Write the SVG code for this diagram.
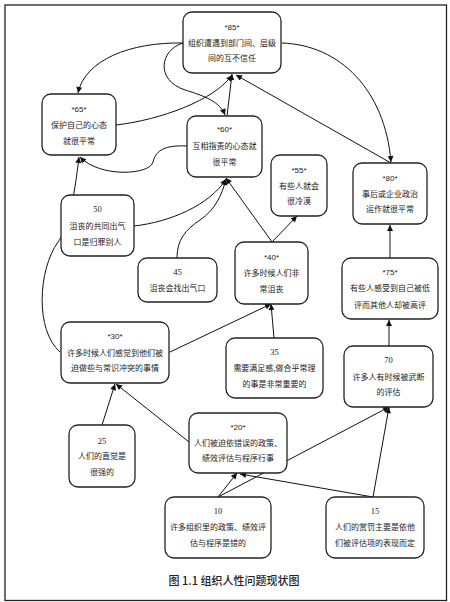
<svg xmlns="http://www.w3.org/2000/svg" width="450" height="602" viewBox="0 0 450 602">
<style>
.box{fill:#fff;stroke:#222;stroke-width:1.3}
.t{font-family:"Noto Sans CJK SC","Liberation Sans",sans-serif;font-size:8px;fill:#222;text-anchor:middle}
.h{font-family:"Liberation Sans",sans-serif;font-size:8px;fill:#222;text-anchor:middle}
.n{font-family:"Liberation Serif",serif;font-size:8.5px;fill:#222;text-anchor:middle}
.c{fill:none;stroke:#111;stroke-width:1;marker-end:url(#ah)}
.cap{font-family:"Noto Sans CJK SC","Liberation Sans",sans-serif;font-size:11px;font-weight:500;fill:#222;text-anchor:middle}
</style>
<defs>
<marker id="ah" viewBox="0 0 10 10" refX="10" refY="5" markerWidth="7" markerHeight="6" markerUnits="userSpaceOnUse" orient="auto">
<path d="M0,0 L10,5 L0,10 z" fill="#111"/>
</marker>
</defs>
<rect x="5" y="5" width="441.5" height="595.5" fill="#fff" stroke="#222" stroke-width="1.3"/>
<g id="connectors">
<path class="c" d="M183,43 C130,42 85,60 78,93"/>
<path class="c" d="M183,43 C160,50 155,80 185,90 C205,96 220,102 225,115"/>
<path class="c" d="M227,116 L232,74"/>
<path class="c" d="M116,125 C160,120 215,100 232,75"/>
<path class="c" d="M391,163 L236,75"/>
<path class="c" d="M282,43 C340,45 385,90 391,162"/>
<path class="c" d="M187,146 C165,145 156,150 153,162 C150,175 100,178 80,157"/>
<path class="c" d="M60,352 C35,330 38,270 58,242 C68,228 74,200 79,157"/>
<path class="c" d="M134,226 C170,222 210,205 226,179"/>
<path class="c" d="M177,258 C177,240 185,230 200,220 C215,210 222,195 226,179"/>
<path class="c" d="M272,242 L226,178"/>
<path class="c" d="M272,242 L297,216"/>
<path class="c" d="M274,338 L271,304"/>
<path class="c" d="M170,352 L271,304"/>
<path class="c" d="M390,258 L390,225"/>
<path class="c" d="M389,346 L389,320"/>
<path class="c" d="M102,425 L115,384"/>
<path class="c" d="M189,442 L116,384"/>
<path class="c" d="M218,497 L237,473"/>
<path class="c" d="M218,497 L389,407"/>
<path class="c" d="M373,497 L240,474"/>
<path class="c" d="M373,497 L389,407"/>
</g>
<g id="n85"><rect class="box" x="183" y="12" width="98" height="61" rx="9"/>
<text class="h" x="232" y="30">*85*</text><text class="t" x="232" y="46">组织遭遇到部门间、层级</text><text class="t" x="232" y="61">间的互不信任</text></g>
<g id="n65"><rect class="box" x="42" y="94" width="74" height="61" rx="9"/>
<text class="h" x="79" y="112">*65*</text><text class="t" x="79" y="128">保护自己的心态</text><text class="t" x="79" y="144">就很平常</text></g>
<g id="n60"><rect class="box" x="187" y="116" width="75" height="61" rx="9"/>
<text class="h" x="224.5" y="132">*60*</text><text class="t" x="224.5" y="149">互相指责的心态就</text><text class="t" x="224.5" y="165">很平常</text></g>
<g id="n55"><rect class="box" x="271" y="155" width="56" height="61" rx="9"/>
<text class="h" x="299" y="173">*55*</text><text class="t" x="299" y="189">有些人就会</text><text class="t" x="299" y="204">很冷漠</text></g>
<g id="n80"><rect class="box" x="353" y="163" width="74" height="61" rx="9"/>
<text class="h" x="390" y="181">*80*</text><text class="t" x="390" y="197">事后或企业政治</text><text class="t" x="390" y="212">运作就很平常</text></g>
<g id="n50"><rect class="box" x="61" y="195" width="73" height="61" rx="9"/>
<text class="n" x="97.5" y="212">50</text><text class="t" x="97.5" y="229">沮丧的共同出气</text><text class="t" x="97.5" y="245">口是归罪别人</text></g>
<g id="n45"><rect class="box" x="138" y="258" width="79" height="44" rx="9"/>
<text class="n" x="177.5" y="275">45</text><text class="t" x="177.5" y="291">沮丧会找出气口</text></g>
<g id="n40"><rect class="box" x="235" y="242" width="73" height="62" rx="9"/>
<text class="h" x="271.5" y="260">*40*</text><text class="t" x="271.5" y="276">许多时候人们非</text><text class="t" x="271.5" y="292">常沮丧</text></g>
<g id="n75"><rect class="box" x="342" y="258" width="96" height="61" rx="9"/>
<text class="h" x="390" y="275">*75*</text><text class="t" x="390" y="291">有些人感受到自己被低</text><text class="t" x="390" y="308">评而其他人却被高评</text></g>
<g id="n30"><rect class="box" x="61" y="322" width="108" height="61" rx="9"/>
<text class="h" x="115" y="339">*30*</text><text class="t" x="115" y="356">许多时候人们感觉到他们被</text><text class="t" x="115" y="371">迫做些与常识冲突的事情</text></g>
<g id="n35"><rect class="box" x="226" y="338" width="97" height="60" rx="9"/>
<text class="n" x="274.5" y="355">35</text><text class="t" x="274.5" y="371">需要满足感,做合乎常理</text><text class="t" x="274.5" y="387">的事是非常重要的</text></g>
<g id="n70"><rect class="box" x="344" y="346" width="89" height="61" rx="9"/>
<text class="n" x="388.5" y="363">70</text><text class="t" x="388.5" y="380">许多人有时候被武断</text><text class="t" x="388.5" y="395">的评估</text></g>
<g id="n25"><rect class="box" x="69" y="425" width="66" height="62" rx="9"/>
<text class="n" x="102" y="444">25</text><text class="t" x="102" y="459">人们的直觉是</text><text class="t" x="102" y="475">很强的</text></g>
<g id="n20"><rect class="box" x="189" y="413" width="98" height="60" rx="9"/>
<text class="h" x="238" y="430">*20*</text><text class="t" x="238" y="446">人们被迫依错误的政策、</text><text class="t" x="238" y="461">绩效评估与程序行事</text></g>
<g id="n10"><rect class="box" x="165" y="497" width="106" height="61" rx="9"/>
<text class="n" x="218" y="514">10</text><text class="t" x="218" y="530">许多组织里的政策、绩效评</text><text class="t" x="218" y="546">估与程序是错的</text></g>
<g id="n15"><rect class="box" x="326" y="497" width="98" height="61" rx="9"/>
<text class="n" x="375" y="514">15</text><text class="t" x="375" y="530">人们的赏罚主要是依他</text><text class="t" x="375" y="546">们被评估项的表现而定</text></g>
<text class="cap" x="234" y="585">图 1.1 组织人性问题现状图</text>
</svg>
